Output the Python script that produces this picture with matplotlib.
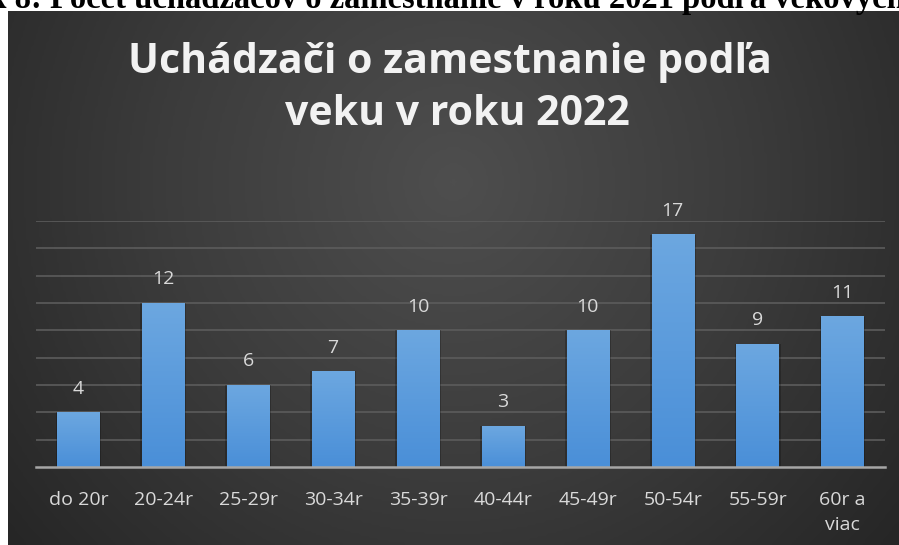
import numpy as np
import matplotlib
matplotlib.use("Agg")
import matplotlib.pyplot as plt
from matplotlib.colors import LinearSegmentedColormap

categories = ["do 20r", "20-24r", "25-29r", "30-34r", "35-39r",
              "40-44r", "45-49r", "50-54r", "55-59r", "60r a\nviac"]
values = [4, 12, 6, 7, 10, 3, 10, 17, 9, 11]
title_lines = ["Uchádzači o zamestnanie podľa", "veku v roku 2022"]
caption_prefix = "ok 8:"
caption_text = "Počet uchádzačov o zamestnanie v roku 2021 podľa vekových"

W, H = 899, 545
DPI = 100
fig = plt.figure(figsize=(W / DPI, H / DPI), dpi=DPI, facecolor="white")

def fx(px):
    return px / W

def fy(py):
    return 1 - py / H

# dark chart background with radial gradient
bg_left, bg_top = 8, 11
bg = fig.add_axes([fx(bg_left), 0, fx(W - bg_left), fy(bg_top)])
bg.set_axis_off()
nx, ny = 400, 240
xx, yy = np.meshgrid(np.linspace(0, 1, nx), np.linspace(0, 1, ny))
asp = (W - bg_left) / (H - bg_top)
d = np.sqrt(((xx - 0.5) * asp) ** 2 + ((yy - 0.32) * 1.0) ** 2)
d = d / d.max()
bg_cmap = LinearSegmentedColormap.from_list("bg", ["#4e4e4e", "#3c3c3c", "#262626"])
bg.imshow(d, cmap=bg_cmap, aspect="auto", extent=[0, 1, 1, 0], interpolation="bilinear")
bg.set_xlim(0, 1)
bg.set_ylim(1, 0)

# caption (cut off at the top, as in the source)
fig.text(fx(42), fy(8), caption_prefix, ha="right", va="baseline",
         fontsize=23.5, fontweight="bold", family="Liberation Serif", color="black")
fig.text(fx(50), fy(8), caption_text, ha="left", va="baseline",
         fontsize=23.5, fontweight="bold", family="Liberation Serif", color="black")

# title
fig.text(fx(450), fy(73), title_lines[0], ha="center", va="baseline",
         fontsize=29.5, fontweight="bold", family="Open Sans", color="#f2f2f2")
fig.text(fx(457), fy(125), title_lines[1], ha="center", va="baseline",
         fontsize=29.5, fontweight="bold", family="Open Sans", color="#f2f2f2")

# plot axes
ax_left, ax_right = 36, 885
ax_base, ax_top = 467, 221
ax = fig.add_axes([fx(ax_left), fy(ax_base), fx(ax_right - ax_left), (ax_base - ax_top) / H])
ax.patch.set_alpha(0)
x = np.arange(len(categories))
ax.set_yticks(np.arange(2, 19, 2))
ax.yaxis.grid(True, color="#5c5c5c", linewidth=1.2)
ax.set_axisbelow(True)
for s in ["top", "right", "left"]:
    ax.spines[s].set_visible(False)
ax.spines["bottom"].set_color("#a6a6a6")
ax.spines["bottom"].set_linewidth(1.8)
ax.spines["bottom"].set_zorder(5)
ax.tick_params(axis="y", left=False, labelleft=False)
ax.tick_params(axis="x", length=0, pad=17, labelsize=14, labelcolor="#d9d9d9")
ax.set_xticks(x)
ax.set_xticklabels(categories, family="Open Sans", linespacing=1.5)

# bar shadows
width = 0.5
ax.bar(x, values, width=width + 0.04, color="black", alpha=0.22, zorder=2)
bars = ax.bar(x, values, width=width, color="#5b9bd5", zorder=3)

# gradient fill
grad = np.linspace(0, 1, 100).reshape(-1, 1)
bar_cmap = LinearSegmentedColormap.from_list("bar", ["#4a8fd8", "#6ca7e0"])
for b in bars:
    x0 = b.get_x()
    x1 = x0 + b.get_width()
    h = b.get_height()
    ax.imshow(grad, cmap=bar_cmap, extent=[x0, x1, 0, h], origin="lower",
              aspect="auto", zorder=4, interpolation="bilinear")
ax.set_xlim(-0.5, len(categories) - 0.5)
ax.set_ylim(0, 18)

for xi, v in zip(x, values):
    ax.annotate(str(v), (xi, v), xytext=(0, 17), textcoords="offset points",
                ha="center", va="center", fontsize=14, color="#d9d9d9", family="Open Sans")

fig.savefig("out.png", dpi=DPI, facecolor="white")
